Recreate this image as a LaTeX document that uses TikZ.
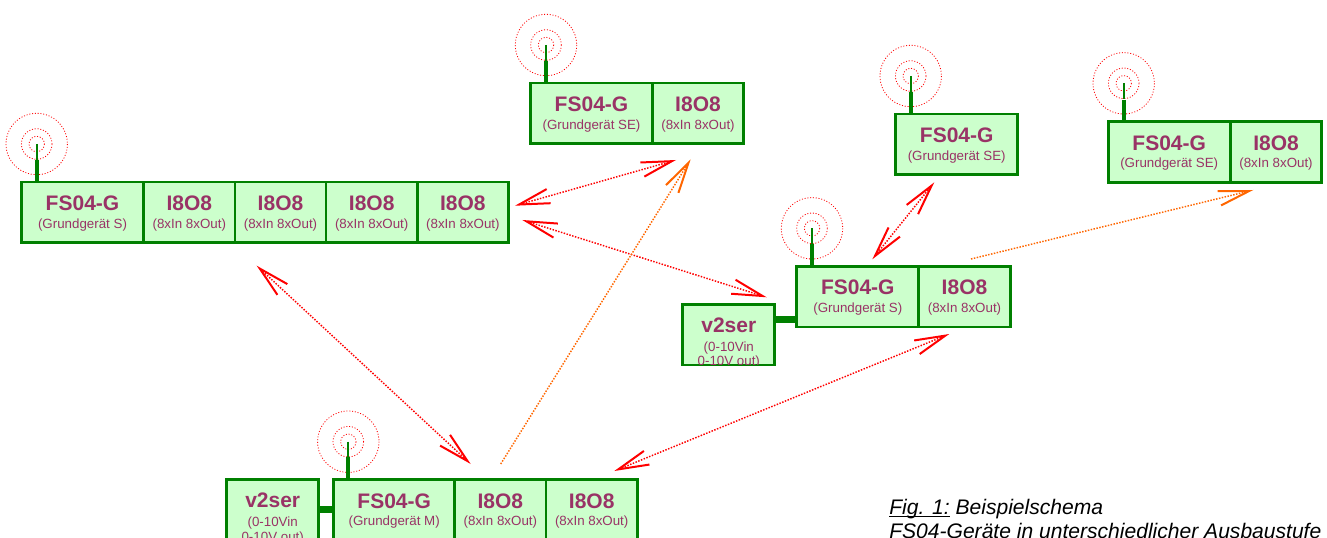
\documentclass[tikz,border=0pt]{standalone}
\usepackage{fontspec}
\setmainfont{Liberation Sans}
\usetikzlibrary{arrows.meta}
\definecolor{unitfill}{HTML}{CCFFCC}
\definecolor{unitgreen}{HTML}{008000}
\definecolor{unittext}{HTML}{993366}
\definecolor{wireorange}{HTML}{FF6600}
\newcommand{\unitname}[1]{{\fontsize{15.75}{17}\selectfont\bfseries #1}}
\newcommand{\unitnote}[1]{{\fontsize{10}{11}\selectfont #1}}
\newcommand{\unitlabel}[2]{\rule{0pt}{12.5pt}\unitname{#1}\\[1pt]\unitnote{#2}}
\tikzset{
  unit/.style={draw=unitgreen,fill=unitfill,line width=2pt,text=unittext,inner sep=0pt,outer sep=0pt,align=center,minimum height=45.5pt},
  basebox/.style={unit,minimum width=91.5pt},
  iobox/.style={unit,minimum width=68.5pt},
  serbox/.style={unit,minimum width=69pt},
  sertext/.style={text=unittext,inner sep=0pt,align=center,anchor=north},
  wave/.style={draw=red,line width=0.6pt,dash pattern=on 0.75pt off 1.35pt},
  mast/.style={draw=unitgreen,line width=3pt},
  mastend/.style={draw=unitgreen,line width=1.5pt},
  bus/.style={draw=unitgreen,line width=5.25pt},
  radio/.style={draw=red,line width=1.1pt,dash pattern=on 1.1pt off 1.1pt,
    {Straight Barb[length=23pt,width=11pt,line width=1.5pt]}-{Straight Barb[length=23pt,width=11pt,line width=1.5pt]}},
  wire/.style={draw=wireorange,line width=1.1pt,dash pattern=on 1.1pt off 1.1pt,
    -{Straight Barb[length=23pt,width=11pt,line width=1.5pt]}}
}
\newcommand{\antenna}[3]{%
  \coordinate (#1) at (#2,#3);
  \draw [wave] (#1) circle (30.7) (#1) circle (15.3) (#1) circle (7.7);
  \draw [mastend] (#1) -- ++(0,16);
}
\begin{document}
\begin{tikzpicture}[x=0.75pt,y=0.75pt,yscale=-1,xscale=1]
\clip (0,0) rectangle (1327,538);

%group left
\node [basebox] (fsA) at (82.5,212.5) {\unitlabel{FS04-G}{(Grundgerät S)}};
\node [iobox] (ioAa) at (189.3,212.5) {\unitlabel{I8O8}{(8xIn 8xOut)}};
\node [iobox] (ioAb) at (280.5,212.5) {\unitlabel{I8O8}{(8xIn 8xOut)}};
\node [iobox] (ioAc) at (371.7,212.5) {\unitlabel{I8O8}{(8xIn 8xOut)}};
\node [iobox] (ioAd) at (462.9,212.5) {\unitlabel{I8O8}{(8xIn 8xOut)}};
\antenna{antA}{36.7}{144}
\draw [mast] (antA |- fsA.north) -- ++(0,-22);

%group top
\node [basebox] (fsB) at (591.5,113.5) {\unitlabel{FS04-G}{(Grundgerät SE)}};
\node [iobox] (ioB) at (698,113.5) {\unitlabel{I8O8}{(8xIn 8xOut)}};
\antenna{antB}{546}{45}
\draw [mast] (antB |- fsB.north) -- ++(0,-22);

%group middle
\node [basebox] (fsC) at (857.8,296.7) {\unitlabel{FS04-G}{(Grundgerät S)}};
\node [iobox] (ioC) at (964.5,296.7) {\unitlabel{I8O8}{(8xIn 8xOut)}};
\antenna{antC}{812}{228.3}
\draw [mast] (antC |- fsC.north) -- ++(0,-22);
\node [serbox] (serC) at (728.8,334.8) {};
\draw [bus] (serC.east |- 0,319.3) -- (fsC.west |- 0,319.3);
\begin{scope}
  \clip (682,304) rectangle (775,364);
  \node [sertext] (serCtxt) at (728.8,318) {\unitname{v2ser}\\[1.6pt]\unitnote{(0-10Vin}\\[-0.8pt]\unitnote{0-10V out)}};
\end{scope}

%group right
\node [basebox] (fsD) at (956.7,144.5) {\unitlabel{FS04-G}{(Grundgerät SE)}};
\antenna{antD}{910.7}{76}
\draw [mast] (antD |- fsD.north) -- ++(0,-22);

\node [basebox] (fsE) at (1169.2,152) {\unitlabel{FS04-G}{(Grundgerät SE)}};
\node [iobox] (ioE) at (1276,152) {\unitlabel{I8O8}{(8xIn 8xOut)}};
\antenna{antE}{1123.7}{83.3}
\draw [mast] (antE |- fsE.north) -- ++(0,-22);

%group bottom
\node [basebox] (fsF) at (394.2,509.8) {\unitlabel{FS04-G}{(Grundgerät M)}};
\node [iobox] (ioFa) at (500.4,509.8) {\unitlabel{I8O8}{(8xIn 8xOut)}};
\node [iobox] (ioFb) at (591.7,509.8) {\unitlabel{I8O8}{(8xIn 8xOut)}};
\antenna{antF}{348.3}{441.7}
\draw [mast] (antF |- fsF.north) -- ++(0,-22);
\node [serbox] (serF) at (272.7,509.8) {};
\draw [bus] (serF.east |- 0,509.3) -- (fsF.west |- 0,509.3);
\node [sertext] (serFtxt) at (272.7,493) {\unitname{v2ser}\\[1.6pt]\unitnote{(0-10Vin}\\[-0.8pt]\unitnote{0-10V out)}};

%links
\coordinate (linkAB) at (515,205.7);
\coordinate (linkBA) at (676,160);
\coordinate (linkAC) at (522.3,220);
\coordinate (linkCA) at (766.7,297.3);
\coordinate (linkAF) at (256.7,265.7);
\coordinate (linkFA) at (470.7,464);
\coordinate (linkFB) at (500.7,464);
\coordinate (linkBF) at (690.7,159.3);
\coordinate (linkFC) at (614.3,471);
\coordinate (linkCF) at (949.3,334);
\coordinate (linkCD) at (872.3,259.3);
\coordinate (linkDC) at (934.3,182.3);
\coordinate (linkCE) at (971,259);
\coordinate (linkEC) at (1253.3,190);
\draw [radio] (linkAB) -- (linkBA);
\draw [radio] (linkAC) -- (linkCA);
\draw [radio] (linkAF) -- (linkFA);
\draw [radio] (linkFC) -- (linkCF);
\draw [radio] (linkCD) -- (linkDC);
\draw [wire] (linkFB) -- (linkBF);
\draw [wire] (linkCE) -- (linkEC);

% Text Node
\node [anchor=north west,inner sep=0pt,align=left,font=\itshape\fontsize{15.8}{18}\selectfont] (caption) at (889,498.5) {\underline{\smash{Fig. 1:}} Beispielschema\\FS04-Geräte in unterschiedlicher Ausbaustufe};
\end{tikzpicture}
\end{document}
